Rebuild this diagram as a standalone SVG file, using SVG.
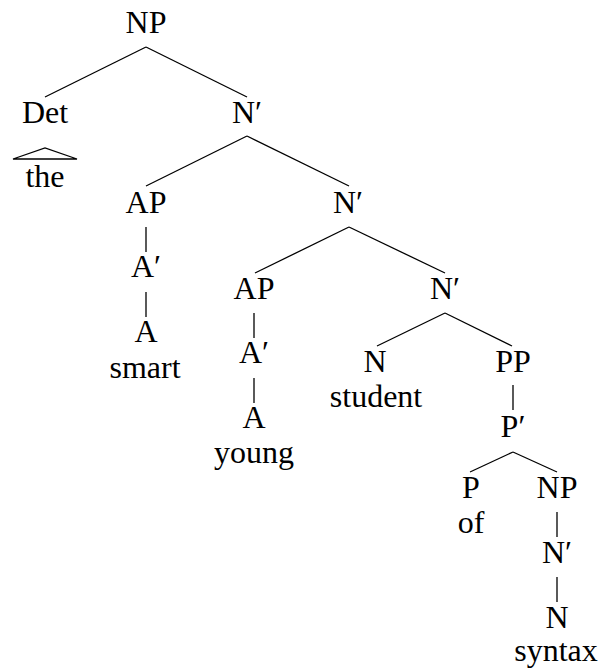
<svg xmlns="http://www.w3.org/2000/svg" width="608" height="669" viewBox="0 0 608 669">
<style>
text{font-family:"Liberation Serif","DejaVu Serif",serif;font-size:32px;fill:#000;text-anchor:middle}
line,polygon{stroke:#000;stroke-width:1.3;fill:none}
</style>
<rect width="608" height="669" fill="#fff"/>
<g id="connectors">
<line x1="146" y1="47" x2="45" y2="97"/>
<line x1="146" y1="47" x2="247" y2="97"/>
<polygon points="13,159 45,148 77,159"/>
<line x1="247" y1="136" x2="146" y2="186"/>
<line x1="247" y1="136" x2="349" y2="186"/>
<line x1="146" y1="227" x2="146" y2="252"/>
<line x1="146" y1="292" x2="146" y2="317"/>
<line x1="349" y1="227" x2="255" y2="273"/>
<line x1="349" y1="227" x2="445" y2="273"/>
<line x1="254" y1="313" x2="254" y2="338"/>
<line x1="254" y1="378" x2="254" y2="403"/>
<line x1="445" y1="313" x2="377" y2="346"/>
<line x1="445" y1="313" x2="512" y2="346"/>
<line x1="513" y1="385" x2="513" y2="410"/>
<line x1="513" y1="452" x2="470" y2="472"/>
<line x1="513" y1="452" x2="557" y2="472"/>
<line x1="557" y1="512" x2="557" y2="537"/>
<line x1="557" y1="577" x2="557" y2="602"/>
</g>
<g id="n-np"><text x="146" y="33">NP</text></g>
<g id="n-det"><text x="45" y="123">Det</text><text x="45" y="187">the</text></g>
<g id="n-nbar1"><text x="247" y="123">N′</text></g>
<g id="n-ap1"><text x="146" y="213">AP</text></g>
<g id="n-abar1"><text x="146" y="277">A′</text></g>
<g id="n-a1"><text x="146" y="342">A</text><text x="145" y="378">smart</text></g>
<g id="n-nbar2"><text x="348" y="213">N′</text></g>
<g id="n-ap2"><text x="254" y="299">AP</text></g>
<g id="n-abar2"><text x="254" y="363">A′</text></g>
<g id="n-a2"><text x="254" y="428">A</text><text x="254" y="463">young</text></g>
<g id="n-nbar3"><text x="445" y="299">N′</text></g>
<g id="n-n1"><text x="375" y="372">N</text><text x="376" y="407">student</text></g>
<g id="n-pp"><text x="513" y="372">PP</text></g>
<g id="n-pbar"><text x="513" y="437">P′</text></g>
<g id="n-p"><text x="471" y="498">P</text><text x="471" y="533">of</text></g>
<g id="n-np2"><text x="557" y="498">NP</text></g>
<g id="n-nbar4"><text x="557" y="563">N′</text></g>
<g id="n-n2"><text x="557" y="628">N</text><text x="556" y="661">syntax</text></g>
</svg>
